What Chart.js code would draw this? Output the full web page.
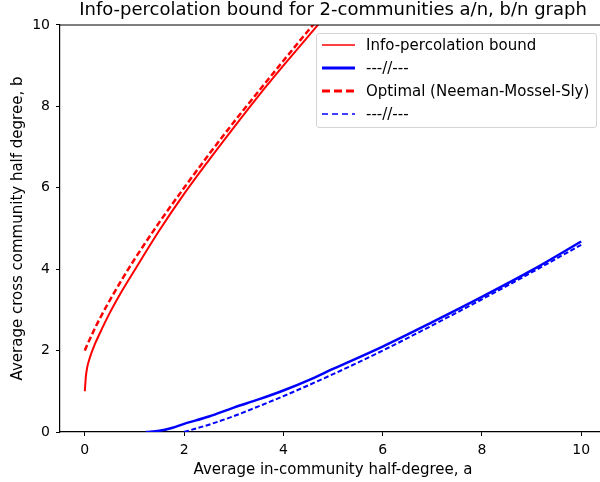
<!DOCTYPE html>
<html>
<head>
<meta charset="utf-8">
<script src="https://cdn.jsdelivr.net/npm/chart.js@4.4.1/dist/chart.umd.min.js"></script>
<style>
  html, body { margin: 0; padding: 0; background: #fff; }
  body { width: 600px; height: 482px; overflow: hidden; position: relative; }
  #wrap { position: absolute; left: 0; top: 0; width: 666px; height: 482px; }
  #legend {
    position: absolute; left: 316px; top: 33px; width: 279px; height: 93px;
    border: 1px solid #d4d4d4; border-radius: 3px; background: rgba(255,255,255,0.85);
    font-family: "DejaVu Sans", sans-serif; font-size: 15px; color: #000;
  }
  .row { position: absolute; left: 5px; height: 20px; display: flex; align-items: center; white-space: nowrap; }
  .row svg { width: 33px; height: 8px; margin-right: 11px; }
</style>
</head>
<body>
<div id="wrap"><canvas id="chart" width="666" height="482"></canvas></div>
<div id="legend"></div>
<script>
// 読み取った曲線データ (a = 同一コミュニティ半次数, b = コミュニティ間半次数)
const redSolidA = [0, 0.02, 0.05, 0.1, 0.2, 0.3, 0.5, 0.75, 1, 1.5, 2, 2.5, 3, 3.5, 4, 4.5, 4.75];
const redSolidB = [1.0, 1.35, 1.6, 1.82, 2.15, 2.42, 2.92, 3.47, 3.97, 4.95, 5.85, 6.68, 7.48, 8.26, 9.0, 9.72, 10.08];

const blueSolidA = [1.23, 1.5, 1.75, 2, 2.5, 3, 3.5, 4, 4.5, 5, 6, 7, 8, 9, 10];
const blueSolidB = [0, 0.03, 0.1, 0.2, 0.38, 0.6, 0.8, 1.02, 1.27, 1.55, 2.1, 2.7, 3.32, 3.97, 4.68];

const redDashA = [0, 0.05, 0.1, 0.2, 0.3, 0.5, 0.75, 1, 1.5, 2, 2.5, 3, 3.5, 4, 4.5, 4.75];
const redDashB = [2.0, 2.15, 2.28, 2.54, 2.78, 3.23, 3.75, 4.24, 5.15, 6.0, 6.82, 7.61, 8.37, 9.12, 9.86, 10.22];

const blueDashA = [2, 2.25, 2.5, 3, 3.5, 4, 5, 6, 7, 8, 9, 10];
const blueDashB = [0, 0.09, 0.18, 0.39, 0.63, 0.88, 1.42, 2.0, 2.62, 3.26, 3.92, 4.6];

const seriesLabels = ['Info-percolation bound', '---//---', 'Optimal (Neeman-Mossel-Sly)', '---//---'];
const xTicks = [0, 2, 4, 6, 8, 10];
const yTicks = [0, 2, 4, 6, 8, 10];

const FONT = 'DejaVu Sans';

function toPoints(xs, ys) {
    return xs.map((x, i) => ({ x: x, y: ys[i] }));
}

const datasets = [
    { label: seriesLabels[0], data: toPoints(redSolidA, redSolidB), borderColor: '#ff0000', borderWidth: 2, borderDash: [] },
    { label: seriesLabels[1], data: toPoints(blueSolidA, blueSolidB), borderColor: '#0000ff', borderWidth: 2.5, borderDash: [] },
    { label: seriesLabels[2], data: toPoints(redDashA, redDashB), borderColor: '#ff0000', borderWidth: 2.5, borderDash: [6, 3] },
    { label: seriesLabels[3], data: toPoints(blueDashA, blueDashB), borderColor: '#0000ff', borderWidth: 2, borderDash: [5, 2.5] }
].map(d => Object.assign(d, { pointRadius: 0, fill: false, cubicInterpolationMode: 'monotone' }));

// 凡例 (HTML)
const legendEl = document.getElementById('legend');
const rowTops = [1, 24, 47, 70];
const legendWidths = [1.4, 3, 3, 1.4];
datasets.forEach((d, i) => {
    const row = document.createElement('div');
    row.className = 'row';
    row.style.top = rowTops[i] + 'px';
    const dash = d.borderDash.length ? (legendWidths[i] > 2 ? '8 4' : '6 4') : 'none';
    row.innerHTML = `<svg viewBox="0 0 33 8"><line x1="0" y1="4" x2="33" y2="4" stroke="${d.borderColor}" stroke-width="${legendWidths[i]}" stroke-dasharray="${dash}"/></svg><span>${d.label}</span>`;
    legendEl.appendChild(row);
});

// 上枠線
const topSpine = {
    id: 'topSpine',
    afterDraw(chart) {
        const { ctx, chartArea: { left, right, top } } = chart;
        ctx.save();
        ctx.strokeStyle = '#000';
        ctx.lineWidth = 1.2;
        ctx.beginPath();
        ctx.moveTo(left, top);
        ctx.lineTo(right, top);
        ctx.stroke();
        ctx.restore();
    }
};

const axisCommon = {
    type: 'linear',
    grid: { display: true, drawOnChartArea: false, drawTicks: true, tickLength: 4, color: '#000', lineWidth: 1 },
    border: { display: true, color: '#000', width: 1.2 },
    ticks: { color: '#000', font: { family: FONT, size: 14 }, padding: 6 }
};

new Chart(document.getElementById('chart').getContext('2d'), {
    type: 'line',
    data: { datasets },
    options: {
        responsive: false,
        animation: false,
        layout: { padding: 0 },
        plugins: {
            legend: { display: false },
            tooltip: { enabled: false },
            title: {
                display: true,
                text: 'Info-percolation bound for 2-communities a/n, b/n graph',
                color: '#000',
                font: { family: FONT, size: 18, weight: 'normal' },
                padding: { top: 0, bottom: 3.4 }
            }
        },
        scales: {
            x: Object.assign({}, axisCommon, {
                min: -0.5, max: 10.5,
                afterBuildTicks: s => { s.ticks = xTicks.map(v => ({ value: v })); },
                afterFit: s => { s.height = 50; },
                title: { display: true, text: 'Average in-community half-degree, a', color: '#000',
                         font: { family: FONT, size: 15 }, padding: { top: 0, bottom: 3 } }
            }),
            y: Object.assign({}, axisCommon, {
                min: 0, max: 10,
                afterBuildTicks: s => { s.ticks = yTicks.map(v => ({ value: v })); },
                afterFit: s => { s.width = 60; },
                title: { display: true, text: 'Average cross community half degree, b', color: '#000',
                         font: { family: FONT, size: 15 }, padding: { top: 9, bottom: 0 } }
            }),
            yRight: {
                type: 'linear', position: 'right', display: true,
                grid: { display: false }, border: { display: false }, ticks: { display: false },
                afterFit: s => { s.width = 60; }
            }
        }
    },
    plugins: [topSpine]
});
</script>
</body>
</html>
